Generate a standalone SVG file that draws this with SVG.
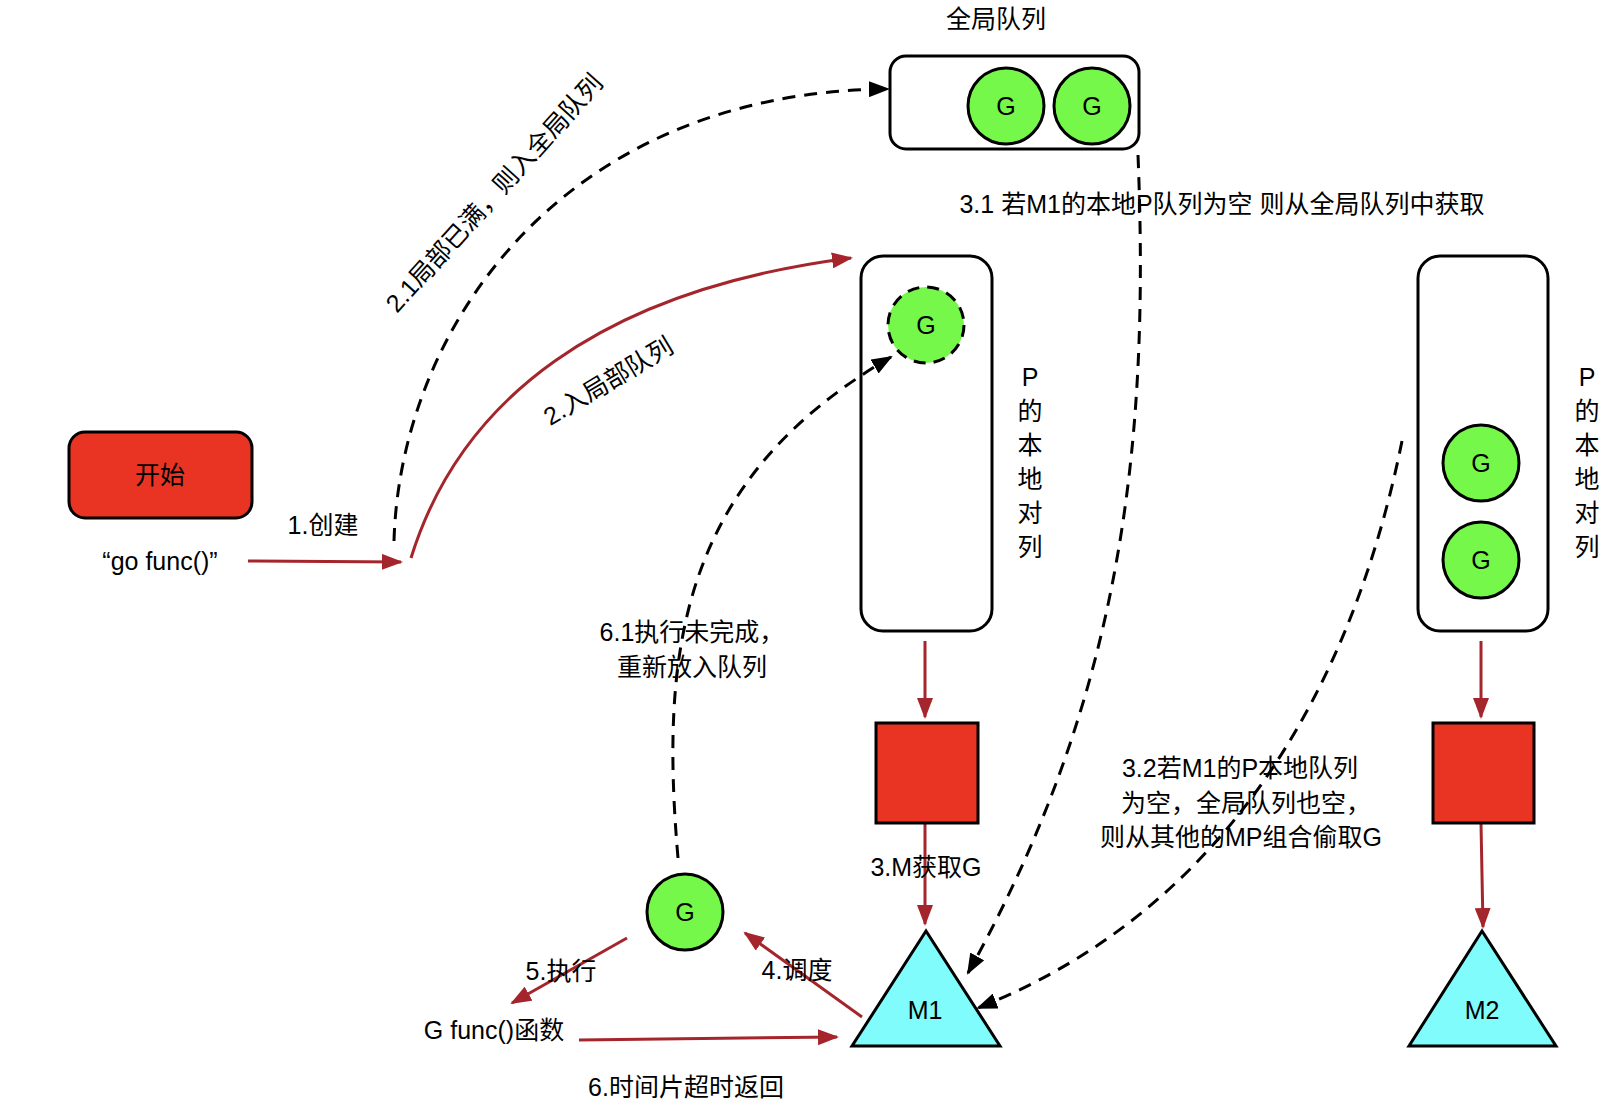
<svg xmlns="http://www.w3.org/2000/svg" width="1622" height="1106" viewBox="0 0 1622 1106">
<style>
text{font-family:"Liberation Sans","Noto Sans CJK SC",sans-serif;font-size:25px;fill:#000;text-anchor:middle}
.box{fill:none;stroke:#000;stroke-width:3}
.red{fill:#E93323;stroke:#000;stroke-width:3}
.g{fill:#76F84B;stroke:#000;stroke-width:3}
.gd{fill:#76F84B;stroke:#000;stroke-width:3;stroke-dasharray:12 8}
.m{fill:#80FCFC;stroke:#000;stroke-width:3;stroke-linejoin:miter}
.rl{fill:none;stroke:#A4262C;stroke-width:3;marker-end:url(#ar)}
.dl{fill:none;stroke:#000;stroke-width:3;stroke-dasharray:13 9;marker-end:url(#ab)}
</style>
<defs>
<marker id="ar" markerWidth="22" markerHeight="16" refX="19" refY="8" orient="auto" markerUnits="userSpaceOnUse"><path d="M0,0 L21,8 L0,16 Z" fill="#A4262C"/></marker>
<marker id="ab" markerWidth="22" markerHeight="16" refX="19" refY="8" orient="auto" markerUnits="userSpaceOnUse"><path d="M0,0 L21,8 L0,16 Z" fill="#000"/></marker>
</defs>
<rect width="1622" height="1106" fill="#fff"/>

<g id="connectors">
<path class="rl" d="M248 561 L401 562"/>
<path class="rl" d="M411 558 C460 400 600 290 851 258"/>
<path class="dl" d="M394 541 C400 330 560 92 888 89"/>
<path class="dl" d="M1138 155 C1150 450 1120 700 968 973"/>
<path class="dl" d="M1402 441 C1360 650 1250 900 978 1008"/>
<path class="dl" d="M678 858 C660 650 680 480 891 357"/>
<path class="rl" d="M925 641 L925 717"/>
<path class="rl" d="M925 823 L925 924"/>
<path class="rl" d="M1481 641 L1481 717"/>
<path class="rl" d="M1481 823 L1483 927"/>
<path class="rl" d="M862 1017 L745 933"/>
<path class="rl" d="M627 938 L512 1003"/>
<path class="rl" d="M579 1040 L837 1037"/>
</g>

<g id="start">
<rect class="red" x="69" y="432" width="183" height="86" rx="16"/>
<text x="160" y="484">开始</text>
</g>
<g id="gofunc"><text x="160" y="570">“go func()”</text></g>
<g id="label-create"><text x="323" y="534">1.创建</text></g>
<g id="label-21"><text transform="translate(494,193) rotate(-48)" x="0" y="9">2.1局部已满，则入全局队列</text></g>
<g id="label-2"><text transform="translate(608,381) rotate(-31)" x="0" y="9">2.入局部队列</text></g>

<g id="global-queue">
<text x="996" y="28">全局队列</text>
<rect class="box" x="890" y="56" width="249" height="93" rx="16"/>
<circle class="g" cx="1006" cy="106" r="38"/>
<text x="1006" y="115">G</text>
<circle class="g" cx="1092" cy="106" r="38"/>
<text x="1092" y="115">G</text>
</g>
<g id="label-31"><text x="1222" y="213">3.1 若M1的本地P队列为空 则从全局队列中获取</text></g>

<g id="p1">
<rect class="box" x="861" y="256" width="131" height="375" rx="22"/>
<circle class="gd" cx="926" cy="325" r="38"/>
<text x="926" y="334">G</text>
<text x="1030" y="386">P</text>
<text x="1030" y="420">的</text>
<text x="1030" y="454">本</text>
<text x="1030" y="488">地</text>
<text x="1030" y="522">对</text>
<text x="1030" y="556">列</text>
</g>

<g id="p2">
<rect class="box" x="1418" y="256" width="130" height="375" rx="22"/>
<circle class="g" cx="1481" cy="463" r="38"/>
<text x="1481" y="472">G</text>
<circle class="g" cx="1481" cy="560" r="38"/>
<text x="1481" y="569">G</text>
<text x="1587" y="386">P</text>
<text x="1587" y="420">的</text>
<text x="1587" y="454">本</text>
<text x="1587" y="488">地</text>
<text x="1587" y="522">对</text>
<text x="1587" y="556">列</text>
</g>

<g id="m-box-1"><rect class="red" x="876" y="723" width="102" height="100"/></g>
<g id="m-box-2"><rect class="red" x="1433" y="723" width="101" height="100"/></g>
<g id="label-3"><text x="926" y="876">3.M获取G</text></g>

<g id="m1">
<polygon class="m" points="926,931 852,1046 1000,1046"/>
<text x="925" y="1019">M1</text>
</g>
<g id="m2">
<polygon class="m" points="1482,931 1409,1046 1556,1046"/>
<text x="1482" y="1019">M2</text>
</g>

<g id="label-32">
<text x="1240" y="777">3.2若M1的P本地队列</text>
<text x="1246" y="812">为空，全局队列也空，</text>
<text x="1241" y="846">则从其他的MP组合偷取G</text>
</g>

<g id="label-61">
<text x="692" y="641">6.1执行未完成，</text>
<text x="692" y="676">重新放入队列</text>
</g>

<g id="g-run">
<circle class="g" cx="685" cy="912" r="38"/>
<text x="685" y="921">G</text>
</g>
<g id="label-5"><text x="561" y="980">5.执行</text></g>
<g id="label-4"><text x="797" y="979">4.调度</text></g>
<g id="gfunc"><text x="494" y="1039">G func()函数</text></g>
<g id="label-6"><text x="686" y="1096">6.时间片超时返回</text></g>
</svg>
